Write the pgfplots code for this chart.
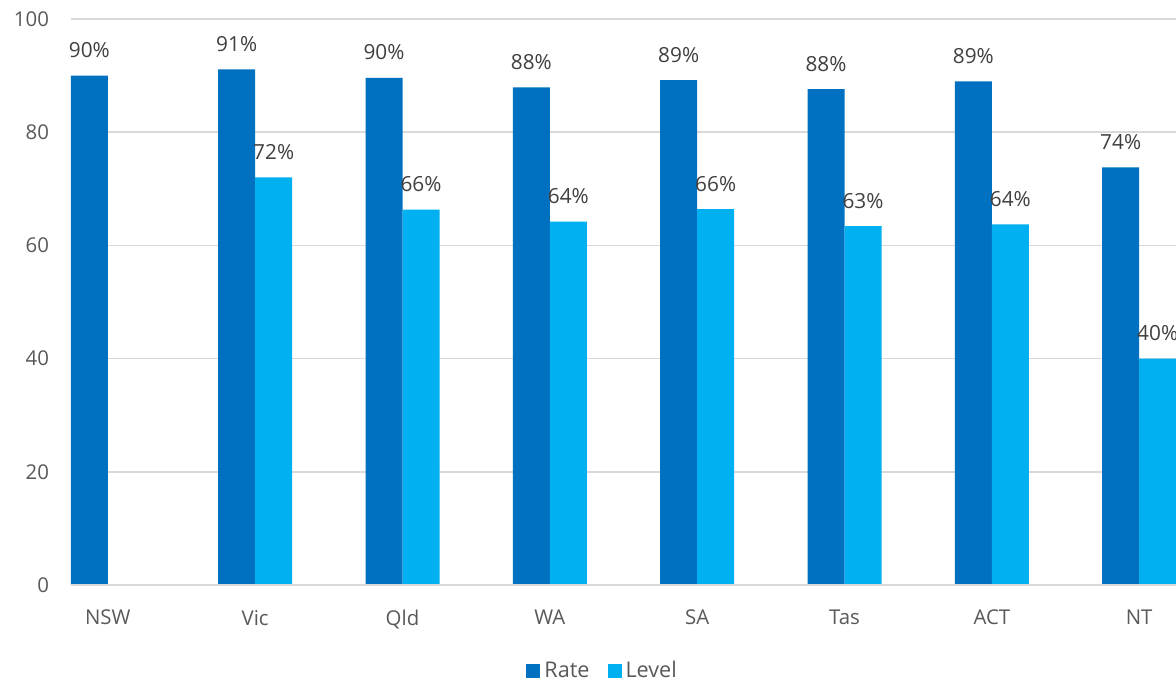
\documentclass[border=0pt]{standalone}
\usepackage{pgfplots}
\pgfplotsset{compat=1.18}
\usepackage{fontspec}
\setmainfont{Open Sans}
\definecolor{rate}{HTML}{0070C0}
\definecolor{level}{HTML}{00B0F0}
\definecolor{gridc}{HTML}{D9D9D9}
\definecolor{tickc}{HTML}{595959}
\definecolor{labc}{HTML}{404040}
\begin{document}
\begin{tikzpicture}
\begin{axis}[
  scale only axis,
  width=552.5pt, height=283pt,
  at={(0,0)}, anchor=south west,
  ybar=0pt, bar width=18.5pt,
  xmin=-0.25, xmax=7.25,
  ymin=0, ymax=100,
  ytick={0,20,40,60,80,100},
  xtick={0,1,2,3,4,5,6,7},
  xticklabels={NSW,Vic,Qld,WA,SA,Tas,ACT,NT},
  axis line style={draw=none},
  major tick length=0pt,
  ymajorgrids, grid style={gridc, line width=0.8pt},
  tick label style={font=\fontsize{10.2}{12}\selectfont, text=tickc},
  yticklabel style={xshift=-7.5pt},
  xticklabel style={yshift=-9pt},
  /pgf/number format/assume math mode=true,
  nodes near coords={\pgfmathprintnumber[fixed,precision=0]{\pgfplotspointmeta}\%},
  every node near coord/.append style={font=\fontsize{10.4}{12}\selectfont, text=labc, yshift=5.3pt},
  legend style={at={(0.482,-0.152)}, anchor=center, draw=none, legend columns=-1,
    font=\fontsize{10.8}{12}\selectfont, text=tickc,
    /tikz/every odd column/.append style={column sep=0pt},
    /tikz/every even column/.append style={column sep=7pt}},
  legend image code/.code={\fill[#1] (0pt,-3.5pt) rectangle (7pt,3.5pt);},
  clip=false,
]
\addplot[fill=rate, draw=none] coordinates {(0,90) (1,91.1) (2,89.6) (3,87.9) (4,89.2) (5,87.6) (6,89.0) (7,73.8)};
\addplot[fill=level, draw=none] coordinates {(1,72.0) (2,66.3) (3,64.2) (4,66.4) (5,63.4) (6,63.7) (7,40.0)};
\draw[gridc, line width=0.8pt] (axis cs:-0.25,0) -- (axis cs:7.25,0);
\legend{Rate,Level}
\end{axis}
\pgfresetboundingbox
\useasboundingbox (-35.5pt,-48pt) rectangle (552.5pt,292.5pt);
\end{tikzpicture}
\end{document}
